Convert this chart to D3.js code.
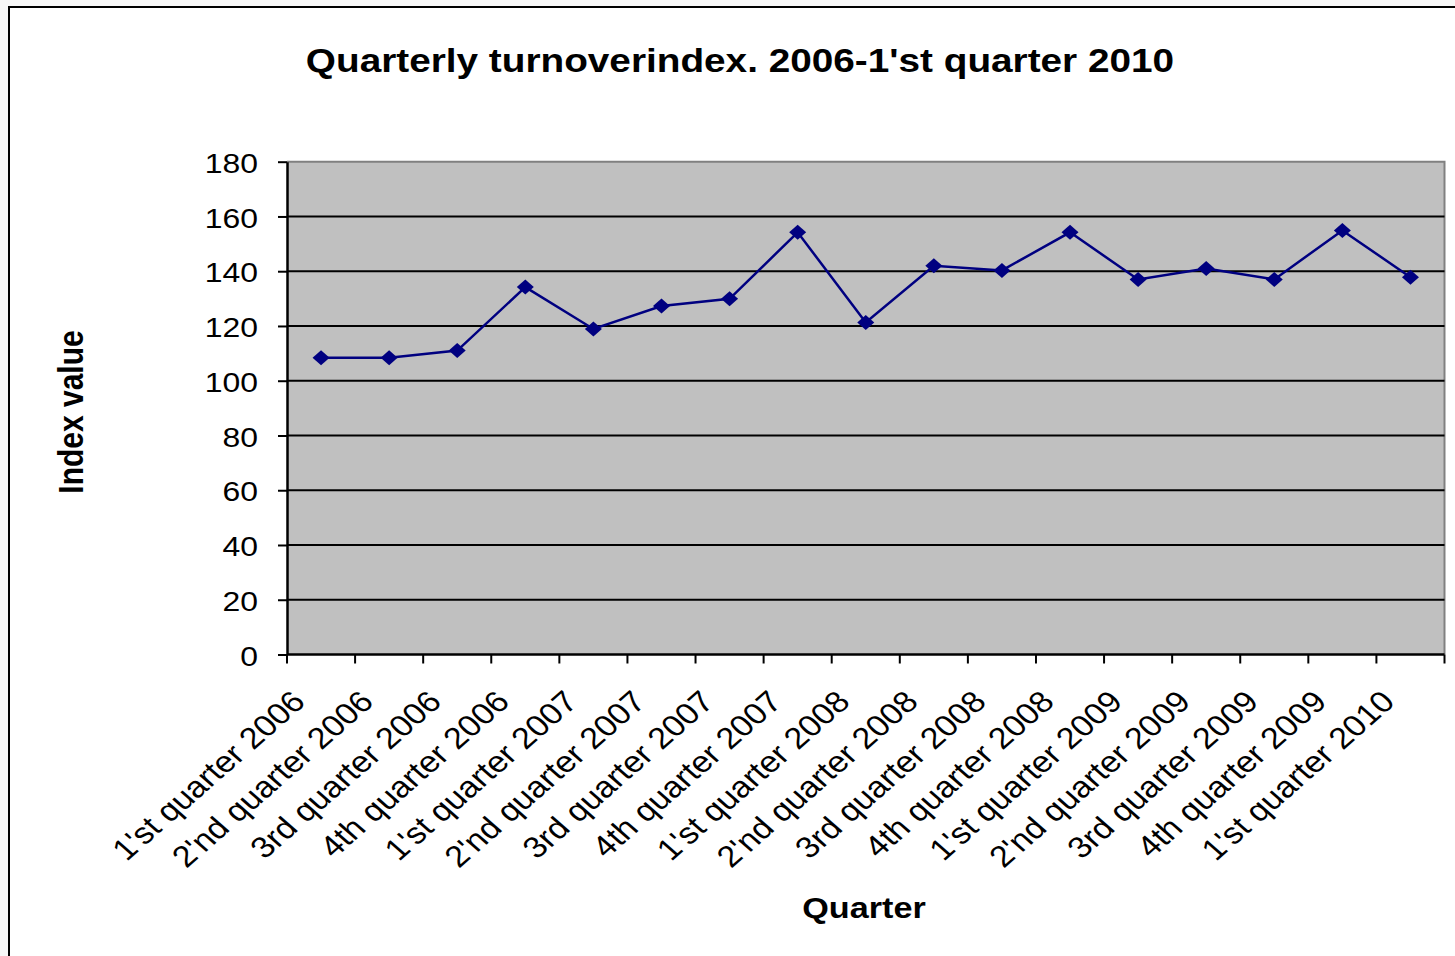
<!DOCTYPE html>
<html><head><meta charset="utf-8">
<script src="https://cdn.jsdelivr.net/npm/d3@7"></script>
<style>body{margin:0;background:#f7f7f7;}svg{display:block;font-family:"Liberation Sans",Arial,sans-serif;}</style>
</head><body>
<svg id="c" width="1455" height="956"></svg>
<script>
const categories = ["1'st quarter 2006","2'nd quarter 2006","3rd quarter 2006","4th quarter 2006",
"1'st quarter 2007","2'nd quarter 2007","3rd quarter 2007","4th quarter 2007",
"1'st quarter 2008","2'nd quarter 2008","3rd quarter 2008","4th quarter 2008",
"1'st quarter 2009","2'nd quarter 2009","3rd quarter 2009","4th quarter 2009",
"1'st quarter 2010"];
const indexValues = [108.4,108.4,111.0,134.2,118.9,127.3,129.9,154.2,121.3,142.0,140.3,154.2,137.0,141.0,137.0,154.9,137.8];
const yTicks = [0,20,40,60,80,100,120,140,160,180];
const titleText = "Quarterly turnoverindex. 2006-1'st quarter 2010";
const xTitle = "Quarter";
const yTitle = "Index value";

const SX = 1.14; // horizontal text stretch seen in the reference
const svg = d3.select("#c");
svg.append("rect").attr("x",9).attr("y",7).attr("width",1460).attr("height",970)
  .attr("fill","#fff").attr("stroke","#000").attr("stroke-width",2);

const L=287,R=1444.5,T=161.7,B=654.5;
const x = d3.scaleBand().domain(categories).range([L,R]).padding(0);
const y = d3.scaleLinear().domain([0,180]).range([B,T]);

svg.append("rect").attr("x",L).attr("y",T).attr("width",R-L).attr("height",B-T).attr("fill","#c0c0c0");
svg.append("path").attr("d",`M${L},${T}H${R}V${B}`).attr("fill","none").attr("stroke","#808080").attr("stroke-width",2);

// gridlines
svg.append("g").selectAll("line").data(yTicks.filter(d=>d>0&&d<180)).join("line")
  .attr("x1",L).attr("x2",R).attr("y1",d=>y(d)).attr("y2",d=>y(d))
  .attr("stroke","#000").attr("stroke-width",2);

// y axis
const ya = svg.append("g").attr("transform",`translate(${L},0)`)
  .call(d3.axisLeft(y).tickValues(yTicks).tickSize(9).tickPadding(18).tickSizeOuter(0));
ya.select(".domain").attr("stroke","#000").attr("stroke-width",2.5);
ya.selectAll(".tick line").attr("stroke","#000").attr("stroke-width",2);
ya.selectAll(".tick text").attr("x",null).attr("dy","0.36em")
  .attr("transform",`translate(-29,0.5) scale(${SX},1)`)
  .attr("font-size",28).attr("fill","#000").attr("font-family","Liberation Sans, Arial, sans-serif");

// x axis
const xa = svg.append("g").attr("transform",`translate(0,${B})`);
xa.append("line").attr("x1",L).attr("x2",R).attr("stroke","#000").attr("stroke-width",2.5);
const bounds = categories.map(c=>x(c)).concat([R]);
xa.selectAll("line.tk").data(bounds).join("line").attr("class","tk")
  .attr("x1",d=>d).attr("x2",d=>d).attr("y1",0).attr("y2",9).attr("stroke","#000").attr("stroke-width",2);
xa.selectAll("text").data(categories).join("text")
  .attr("transform",d=>`translate(${x(d)+x.bandwidth()/2-14},${49}) scale(${SX},1) rotate(-45)`)
  .attr("text-anchor","end").attr("font-size",30).attr("fill","#000").text(d=>d);

// line
const cx = (d,i)=>x(categories[i])+x.bandwidth()/2;
const line = d3.line().x(cx).y(d=>y(d));
svg.append("path").datum(indexValues).attr("d",line).attr("fill","none").attr("stroke","#000080").attr("stroke-width",2.5);
svg.append("g").selectAll("path").data(indexValues).join("path")
  .attr("d","M0,-7.5L8.5,0L0,7.5L-8.5,0Z")
  .attr("transform",(d,i)=>`translate(${cx(d,i)},${y(d)})`)
  .attr("fill","#000080");

// titles
svg.append("text").attr("transform",`translate(740,72) scale(${SX},1)`).attr("text-anchor","middle").attr("font-size",34).attr("font-weight","bold").text(titleText);
svg.append("text").attr("transform",`translate(864,918) scale(${SX},1)`).attr("text-anchor","middle").attr("font-size",30).attr("font-weight","bold").text(xTitle);
svg.append("text").attr("transform",`translate(83,412) scale(${SX},1) rotate(-90)`).attr("text-anchor","middle").attr("font-size",30).attr("font-weight","bold").text(yTitle);
</script>
</body></html>
